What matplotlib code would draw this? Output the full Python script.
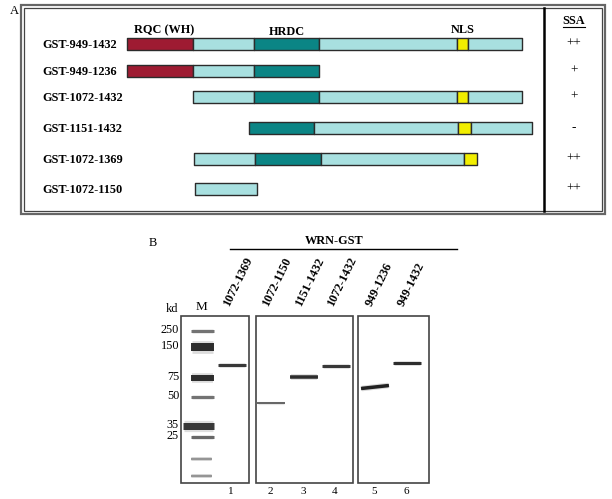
import matplotlib.pyplot as plt
from matplotlib.patches import Rectangle

plt.rcParams['font.family'] = ['Liberation Serif', 'DejaVu Serif']

# ---- panel A data: constructs, domain segments (schematic units), SSA activity
constructs = ['GST-949-1432', 'GST-949-1236', 'GST-1072-1432',
              'GST-1151-1432', 'GST-1072-1369', 'GST-1072-1150']
ssa = ['++', '+', '+', '-', '++', '++']
segments = [
    [(127, 193, 'RQC'), (193, 254, 'linker'), (254, 319, 'HRDC'), (319, 457, 'linker'), (457, 468, 'NLS'), (468, 522, 'linker')],
    [(127, 193, 'RQC'), (193, 254, 'linker'), (254, 319, 'HRDC')],
    [(193, 254, 'linker'), (254, 319, 'HRDC'), (319, 457, 'linker'), (457, 468, 'NLS'), (468, 522, 'linker')],
    [(249, 314, 'HRDC'), (314, 458, 'linker'), (458, 471, 'NLS'), (471, 532, 'linker')],
    [(194, 255, 'linker'), (255, 321, 'HRDC'), (321, 464, 'linker'), (464, 477, 'NLS')],
    [(195, 257, 'linker')],
]
row_y = [44, 70.5, 96.5, 128, 159, 189]
domain_colors = {'RQC': '#9e1b32', 'linker': '#a8e0e0', 'HRDC': '#0b8585', 'NLS': '#f2ee00'}

# ---- panel B data: gel lanes and band migration (px from top of image)
lanes = ['1072-1369', '1072-1150', '1151-1432', '1072-1432', '949-1236', '949-1432']
lane_x = [232, 271, 304, 336, 375, 407]
sample_mig = [365, 403, 377, 366, 387, 363]
marker_kd = ['250', '150', '75', '50', '35', '25']
marker_mig = [331, 347, 378, 397, 426, 437]
marker_extra_mig = [459, 476]

fig = plt.figure(figsize=(6.12, 4.99), dpi=100)
ax = fig.add_axes([0, 0, 1, 1])
ax.set_xlim(0, 612)
ax.set_ylim(499, 0)
ax.axis('off')

# ---------------- panel A ----------------
ax.text(10, 11, 'A', fontsize=9, ha='left', va='center')
ax.add_patch(Rectangle((21, 5), 584, 209, fill=False, ec='#666666', lw=1.6))
ax.add_patch(Rectangle((24, 8), 578, 203, fill=False, ec='#444444', lw=0.9))
ax.plot([544, 544], [8, 211], color='black', lw=1.8)

for name, segs, y, s in zip(constructs, segments, row_y, ssa):
    ax.text(42, y + 1, name, fontsize=8.8, fontweight='bold', ha='left', va='center')
    for x0, x1, dom in segs:
        ax.broken_barh([(x0, x1 - x0)], (y - 6, 12), facecolors=domain_colors[dom],
                       edgecolors='#2b2b2b', linewidth=1)
    ax.text(574, y, s, fontsize=9.5, ha='center', va='center')

ax.text(164, 30, 'RQC (WH)', fontsize=8.8, fontweight='bold', ha='center', va='center')
ax.text(287, 32, 'HRDC', fontsize=8.8, fontweight='bold', ha='center', va='center')
ax.text(463, 30, 'NLS', fontsize=8.8, fontweight='bold', ha='center', va='center')
ax.text(574, 21, 'SSA', fontsize=8.8, fontweight='bold', ha='center', va='center')
ax.plot([563, 585], [26.5, 26.5], color='black', lw=0.8)

# ---------------- panel B ----------------
ax.text(153, 243, 'B', fontsize=9, ha='center', va='center')
ax.text(334, 241, 'WRN-GST', fontsize=8.8, fontweight='bold', ha='center', va='center')
ax.plot([230, 457], [249, 249], color='black', lw=1)

for lab, x in zip(lanes, lane_x):
    ax.text(x - 3, 307, lab, fontsize=8.8, fontweight='bold', rotation=64,
            rotation_mode='anchor', ha='left', va='baseline')
ax.text(172, 309, 'kd', fontsize=9, ha='center', va='center')
ax.text(201, 307, 'M', fontsize=9.5, ha='center', va='center')

for x0, x1 in [(181, 249), (256, 353), (358, 429)]:
    ax.add_patch(Rectangle((x0, 316), x1 - x0, 167, fill=False, ec='#444444', lw=1.2))


def band(x0, x1, y0, y1, thick, shade):
    # soft-edged gel band: faint wide stroke under a narrower dark one
    ax.plot([x0 + 1, x1 - 1], [y0, y1], color=str(shade), lw=thick * 0.72 * 1.6,
            alpha=0.15, solid_capstyle='butt')
    ax.plot([x0, x1], [y0, y1], color=str(shade), lw=thick * 0.72,
            alpha=0.9, solid_capstyle='butt')


marker_thick = [3, 8, 6, 3, 7, 3]
marker_shade = [0.4, 0.1, 0.1, 0.4, 0.15, 0.35]
for kd, y, t, sh in zip(marker_kd, marker_mig, marker_thick, marker_shade):
    left = 183 if kd == '35' else 191
    band(left, 214, y, y, t, sh)
    ax.text(179, y - 1, kd, fontsize=8.8, ha='right', va='center')
for y in marker_extra_mig:
    band(191, 212, y, y, 2.5, 0.55)

sample_thick = [3, 2, 3.5, 3, 3.5, 3]
sample_shade = [0.15, 0.35, 0.1, 0.15, 0.05, 0.1]
for i, (x, y, t, sh) in enumerate(zip(lane_x, sample_mig, sample_thick, sample_shade)):
    tilt = 1.5 if i == 4 else 0
    band(x - 14, x + 14, y + tilt, y - tilt, t, sh)
    ax.text(x - 1, 491, str(i + 1), fontsize=8, ha='center', va='center')

fig.savefig('out.png', dpi=100)
